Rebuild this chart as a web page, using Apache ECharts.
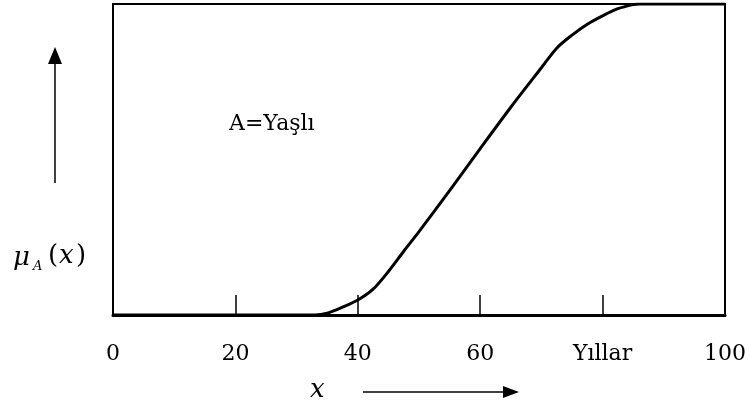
<!DOCTYPE html>
<html>
<head>
<meta charset="utf-8">
<script src="https://cdn.jsdelivr.net/npm/echarts@6/dist/echarts.min.js"></script>
<style>
  html, body { margin: 0; padding: 0; background: #fff; }
  #chart { width: 749px; height: 412px; }
</style>
</head>
<body>
<div id="chart"></div>
<script>
// Membership function of the fuzzy set A = "Yaşlı" (old) over age in years
const ages = [0, 33, 35, 37.5, 40, 42.5, 45, 47.5, 50, 55, 60, 65, 70, 72.5, 75, 77.5, 80, 82.5, 85, 86, 100];
const membership = [0, 0, 0.006, 0.025, 0.048, 0.083, 0.14, 0.205, 0.268, 0.40, 0.535, 0.668, 0.795, 0.858, 0.90, 0.935, 0.962, 0.985, 0.998, 1, 1];
const tickLabels = { 0: '0', 20: '20', 40: '40', 60: '60', 80: 'Yıllar', 100: '100' };
const setName = 'A=Yaşlı';

const chart = echarts.init(document.getElementById('chart'), null, { renderer: 'canvas' });
const serif = '"DejaVu Serif", "Liberation Serif", serif';

function label(text, x, y, font) {
  return { type: 'text', x: x, y: y,
    style: { text: text, font: font, fill: '#000', align: 'left', verticalAlign: 'middle' } };
}

chart.setOption({
  animation: false,
  backgroundColor: '#fff',
  grid: {
    left: 113, right: 18, top: 4, bottom: 97,
    show: true, borderColor: '#000', borderWidth: 2, backgroundColor: 'transparent'
  },
  xAxis: {
    type: 'value', min: 0, max: 100, interval: 20,
    axisLine: { show: true, lineStyle: { color: '#000', width: 3 } },
    axisTick: { show: true, inside: true, length: 20, lineStyle: { color: '#000', width: 1.5 } },
    splitLine: { show: false },
    axisLabel: {
      margin: 28, color: '#000', fontFamily: serif, fontSize: 22,
      formatter: v => tickLabels[v] !== undefined ? tickLabels[v] : ''
    }
  },
  yAxis: {
    type: 'value', min: 0, max: 1,
    axisLine: { show: true, lineStyle: { color: '#000', width: 2 } },
    axisTick: { show: false }, axisLabel: { show: false }, splitLine: { show: false }
  },
  series: [{
    type: 'line',
    data: ages.map((a, i) => [a, membership[i]]),
    smooth: 0.3,
    showSymbol: false,
    lineStyle: { color: '#000', width: 3, join: 'round' }
  }],
  graphic: [
    label(setName, 229, 124, '22px ' + serif),
    // vertical arrow beside the membership label
    { type: 'line', shape: { x1: 55, y1: 183, x2: 55, y2: 60 }, style: { stroke: '#000', lineWidth: 1.5 } },
    { type: 'polygon', shape: { points: [[55, 47], [48, 64], [62, 64]] }, style: { fill: '#000' } },
    // μ_A(x)
    label('μ', 13, 258, 'italic 26px ' + serif),
    label('A', 33, 267, 'italic 13px ' + serif),
    label('(', 48, 256, '26px ' + serif),
    label('x', 59, 256, 'italic 26px ' + serif),
    label(')', 76, 256, '26px ' + serif),
    // x with horizontal arrow
    label('x', 310, 390, 'italic 26px ' + serif),
    { type: 'line', shape: { x1: 363, y1: 392, x2: 506, y2: 392 }, style: { stroke: '#000', lineWidth: 1.5 } },
    { type: 'polygon', shape: { points: [[519, 392], [503, 386], [503, 398]] }, style: { fill: '#000' } }
  ]
});
</script>
</body>
</html>
